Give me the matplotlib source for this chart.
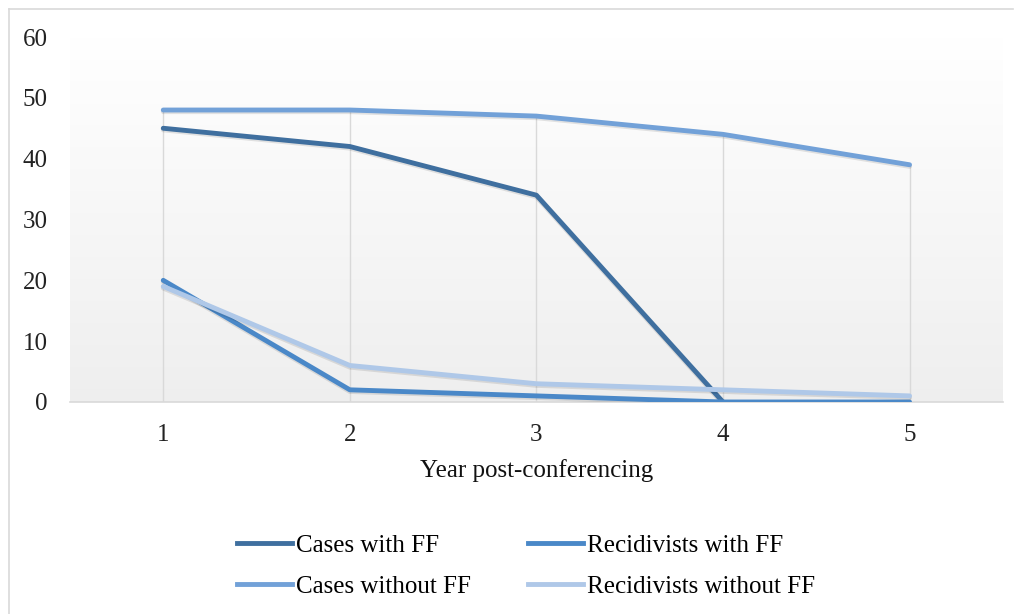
import numpy as np
import matplotlib
matplotlib.use("Agg")
import matplotlib.pyplot as plt
import matplotlib.patheffects as pe
from matplotlib.lines import Line2D

# Follow-up data, years 1-5 after conferencing
years = [1, 2, 3, 4, 5]
cases_with_ff = [45, 42, 34, 0]          # no cases left after year 4
recidivists_with_ff = [20, 2, 1, 0, 0]
cases_without_ff = [48, 48, 47, 44, 39]
recidivists_without_ff = [19, 6, 3, 2, 1]

series_names = ["Cases with FF", "Recidivists with FF",
                "Cases without FF", "Recidivists without FF"]
series_colors = ["#3F6F9F", "#4A88C8", "#72A1D8", "#AFC8E8"]

plt.rcParams["font.family"] = ["Liberation Serif", "DejaVu Serif"]
plt.rcParams["font.size"] = 18


def draw_background(ax):
    """Soft white-to-grey vertical gradient behind the plot area."""
    grad = np.linspace(1.0, 0.935, 256).reshape(-1, 1)
    ax.imshow(np.dstack([grad, grad, grad]), extent=[0.5, 5.5, 0, 60],
              aspect="auto", origin="upper", zorder=0)


fig = plt.figure(figsize=(10.14, 6.14), dpi=100)
ax = fig.add_axes([0.069, 0.3453, 0.92, 0.5944])
draw_background(ax)

# drop lines from the highest point of each year down to the axis
tops = [max(v) for v in zip(cases_with_ff + [0], recidivists_with_ff,
                             cases_without_ff, recidivists_without_ff)]
ax.vlines(years, 0, tops, color="#d9d9d9", lw=1, zorder=1)

shadow = [pe.SimpleLineShadow(offset=(0, -1.2), alpha=0.1), pe.Normal()]
all_series = [cases_with_ff, recidivists_with_ff,
              cases_without_ff, recidivists_without_ff]
draw_order = [2, 3, 1, 0]
for i in draw_order:
    vals = all_series[i]
    ax.plot(years[:len(vals)], vals, color=series_colors[i], lw=3.5,
            solid_capstyle="round", solid_joinstyle="round",
            path_effects=shadow, zorder=3 + i)

ax.set_xlim(0.5, 5.5)
ax.set_ylim(0, 60)
ax.set_xticks(years)
ax.set_yticks(range(0, 61, 10))
ax.tick_params(length=0, colors="#222222")
ax.tick_params(axis="x", pad=16)
ax.tick_params(axis="y", pad=16)
for side in ["top", "right", "left"]:
    ax.spines[side].set_visible(False)
ax.spines["bottom"].set_color("#d9d9d9")
ax.spines["bottom"].set_linewidth(1.2)
ax.set_xlabel("Year post-conferencing", labelpad=9, color="#111111")

# legend fills column by column, so list the "with FF" pair across row one
legend_order = [0, 2, 1, 3]
handles = [Line2D([], [], color=series_colors[i], lw=3.5) for i in legend_order]
labels = [series_names[i] for i in legend_order]
fig.legend(handles, labels, ncol=2, frameon=False,
           loc="center", bbox_to_anchor=(0.519, 0.078),
           handlelength=2.2, handletextpad=0.15, columnspacing=2.3,
           labelspacing=0.75)

# light frame along the top and left of the chart area
fig.add_artist(Line2D([9 / 1014, 1013 / 1014], [1 - 9 / 614, 1 - 9 / 614],
                      transform=fig.transFigure, color="#d9d9d9", lw=1.2))
fig.add_artist(Line2D([9 / 1014, 9 / 1014], [1 - 9 / 614, 0],
                      transform=fig.transFigure, color="#d9d9d9", lw=1.2))

fig.savefig("out.png", dpi=100, facecolor="white")
